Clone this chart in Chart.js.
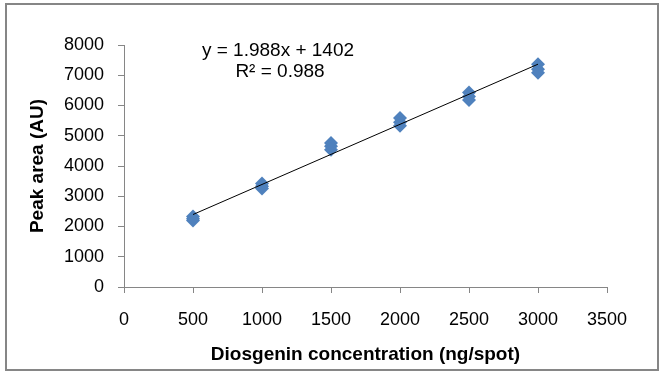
<!DOCTYPE html>
<html>
<head>
<meta charset="utf-8">
<script src="https://cdn.jsdelivr.net/npm/chart.js@4"></script>
<style>
  html, body { margin: 0; padding: 0; background: #fff; }
  #wrap { position: relative; width: 662px; height: 374px; }
</style>
</head>
<body>
<div id="wrap"><canvas id="chart" width="662" height="374"></canvas></div>
<script>
// replicate measurements per concentration level (ng/spot)
const concentrations = [500, 500, 500, 1000, 1000, 1000, 1500, 1500, 1500,
                        2000, 2000, 2000, 2500, 2500, 2500, 3000, 3000, 3000];
const peakAreas = [2330, 2260, 2200, 3420, 3330, 3260, 4760, 4650, 4540,
                   5590, 5450, 5330, 6430, 6300, 6180, 7360, 7200, 7080];

// linear trendline endpoints
const trendX = [500, 3000];
const trendY = [2396, 7366];

const equationLines = ['y = 1.988x + 1402', 'R\u00b2 = 0.988'];

const xTicks = [0, 500, 1000, 1500, 2000, 2500, 3000, 3500];
const yTicks = [0, 1000, 2000, 3000, 4000, 5000, 6000, 7000, 8000];

const axisColor = '#868686';
const markerColor = '#4F81BD';
const font = 'Liberation Sans, Arial, sans-serif';

const frame = {
  id: 'frame',
  afterDraw(chart) {
    const ctx = chart.ctx;
    ctx.save();
    ctx.strokeStyle = axisColor;
    ctx.lineWidth = 2;
    ctx.strokeRect(6, 4, 652, 366);
    ctx.fillStyle = '#000';
    ctx.font = '19px ' + font;
    ctx.textAlign = 'center';
    ctx.textBaseline = 'middle';
    ctx.fillText(equationLines[0], 278, 51);
    ctx.fillText(equationLines[1], 280, 72);
    ctx.restore();
  }
};

new Chart(document.getElementById('chart'), {
  type: 'scatter',
  data: {
    datasets: [{
      label: 'Peak area',
      data: concentrations.map((c, i) => ({ x: c, y: peakAreas[i] })),
      pointStyle: 'rectRot',
      pointRadius: 7,
      pointHoverRadius: 7,
      backgroundColor: markerColor,
      borderColor: markerColor,
      borderWidth: 0,
      order: 2
    }, {
      type: 'line',
      label: 'Linear',
      data: trendX.map((x, i) => ({ x: x, y: trendY[i] })),
      borderColor: '#000',
      borderWidth: 1,
      pointRadius: 0,
      fill: false,
      order: 1
    }]
  },
  options: {
    responsive: false,
    animation: false,
    layout: { padding: { left: 0, top: 45, right: 55, bottom: 0 } },
    plugins: { legend: { display: false }, tooltip: { enabled: false } },
    scales: {
      x: {
        type: 'linear',
        min: 0, max: 3500,
        afterBuildTicks(scale) { scale.ticks = xTicks.map(v => ({ value: v })); },
        afterFit(scale) { scale.height = 87; },
        grid: { drawOnChartArea: false, color: axisColor, tickLength: 6 },
        border: { color: axisColor, width: 1 },
        ticks: {
          color: '#000', font: { family: font, size: 18 }, padding: 16, maxRotation: 0,
          callback: v => String(v)
        },
        title: {
          display: true,
          text: 'Diosgenin concentration (ng/spot)',
          color: '#000',
          font: { family: font, size: 19, weight: 'bold' },
          padding: { top: 0, bottom: 8 }
        }
      },
      y: {
        min: 0, max: 8000,
        afterBuildTicks(scale) { scale.ticks = yTicks.map(v => ({ value: v })); },
        afterFit(scale) { scale.width = 124; },
        grid: { drawOnChartArea: false, color: axisColor, tickLength: 6 },
        border: { color: axisColor, width: 1 },
        ticks: {
          color: '#000', font: { family: font, size: 18 }, padding: 14,
          callback: v => String(v)
        },
        title: {
          display: true,
          text: 'Peak area (AU)',
          color: '#000',
          font: { family: font, size: 19, weight: 'bold' },
          padding: { top: 26, bottom: 0 }
        }
      }
    }
  },
  plugins: [frame]
});
</script>
</body>
</html>
